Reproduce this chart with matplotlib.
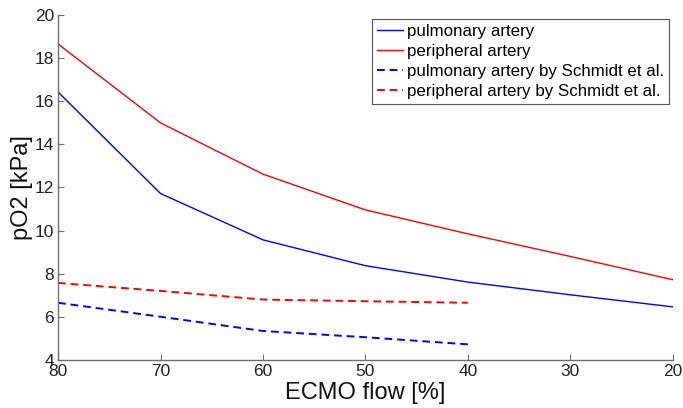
import matplotlib
matplotlib.use("Agg")
import matplotlib.pyplot as plt

plt.rcParams['font.family'] = ['Liberation Sans', 'DejaVu Sans']

# ECMO flow levels and measured pO2 values
flow = [80, 70, 60, 50, 40, 30, 20]
pulmonary = [16.43, 11.72, 9.57, 8.37, 7.61, 7.02, 6.46]
peripheral = [18.66, 15.0, 12.62, 10.96, 9.85, 8.8, 7.72]

flow_schmidt = [80, 70, 60, 50, 40]
pulmonary_schmidt = [6.65, 6.0, 5.34, 5.05, 4.72]
peripheral_schmidt = [7.57, 7.2, 6.8, 6.72, 6.65]

x_ticks = [80, 70, 60, 50, 40, 30, 20]
y_ticks = [4, 6, 8, 10, 12, 14, 16, 18, 20]

fig = plt.figure(figsize=(6.83, 4.08), dpi=100)
ax = fig.add_axes([0.085, 0.118, 0.9, 0.845])

ax.plot(flow, pulmonary, color=(0, 0, 1), lw=1.0, label='pulmonary artery')
ax.plot(flow, peripheral, color=(1, 0, 0), lw=1.0, label='peripheral artery')
ax.plot(flow_schmidt, pulmonary_schmidt, color=(0, 0, 1), lw=1.4, ls=(0, (4, 2.5)),
        label='pulmonary artery by Schmidt et al.')
ax.plot(flow_schmidt, peripheral_schmidt, color=(1, 0, 0), lw=1.4, ls=(0, (4, 2.5)),
        label='peripheral artery by Schmidt et al.')

ax.set_xlim(80, 20)
ax.set_ylim(4, 20)
ax.set_xticks(x_ticks)
ax.set_yticks(y_ticks)

for side in ('top', 'right'):
    ax.spines[side].set_visible(False)
for side in ('left', 'bottom'):
    ax.spines[side].set_color('#6e6e6e')
    ax.spines[side].set_linewidth(1.0)
ax.tick_params(direction='in', length=4, color='#6e6e6e', labelsize=12.5,
               labelcolor='#222222', pad=3)

ax.set_xlabel('ECMO flow [%]', fontsize=17, labelpad=2, color='#111111')
ax.set_ylabel('pO2 [kPa]', fontsize=17, labelpad=1, color='#111111')

leg = ax.legend(loc='upper right', bbox_to_anchor=(0.9935, 0.99), fontsize=12.2,
                handlelength=1.55, handletextpad=0.2, borderpad=0.3,
                labelspacing=0.3, fancybox=False, framealpha=1, borderaxespad=0)
leg.get_frame().set_edgecolor('#555555')
leg.get_frame().set_linewidth(0.8)

fig.savefig('out.png', dpi=100)
